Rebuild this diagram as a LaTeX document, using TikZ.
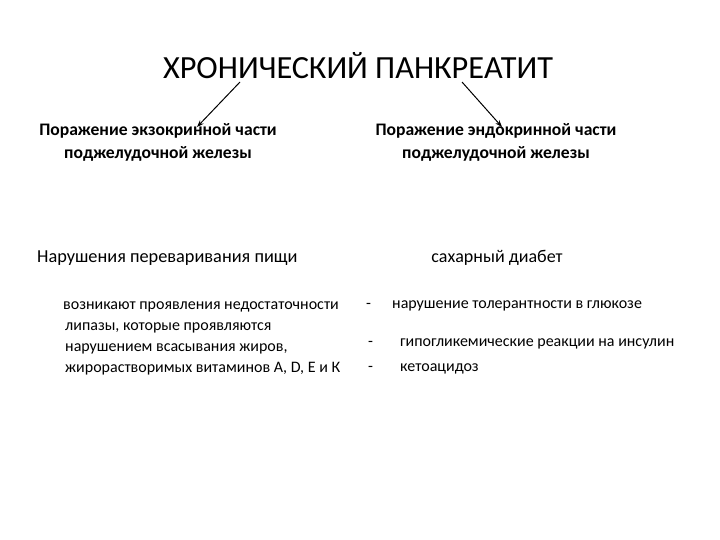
\documentclass[tikz,border=0pt]{standalone}
\usepackage{fontspec}
\setmainfont{Carlito}
\usetikzlibrary{arrows.meta}
\begin{document}
\begin{tikzpicture}[x=1pt,y=-1pt,
  txt/.style={inner sep=0pt,anchor=west,font=\fontsize{16}{19}\selectfont},
  hdr/.style={inner sep=0pt,align=center,font=\fontsize{17.6}{23}\selectfont\bfseries},
  arr/.style={draw,line width=1pt,-{Stealth[length=7pt,width=5pt]}}]
\useasboundingbox[fill=white] (0,0) rectangle (720,540);
\node[inner sep=0pt,font=\fontsize{32.3}{36}\selectfont] (title) at (358,66) {ХРОНИЧЕСКИЙ ПАНКРЕАТИТ};
\coordinate (s1) at (240,82);
\coordinate (s2) at (462,82);
\node[hdr] (exo) at (158,142) {Поражение экзокринной части\\поджелудочной железы};
\node[hdr] (endo) at (496,142) {Поражение эндокринной части\\поджелудочной железы};
\coordinate (t1) at (197,127);
\coordinate (t2) at (502,127);
\draw[arr] (s1) -- (t1);
\draw[arr] (s2) -- (t2);
\node[inner sep=0pt,anchor=west,font=\fontsize{18.3}{20}\selectfont] (dig) at (37,258) {Нарушения переваривания пищи};
\node[inner sep=0pt,font=\fontsize{18}{20}\selectfont] (diab) at (497,258) {сахарный диабет};
\node[txt] (p1) at (63,307) {возникают проявления недостаточности};
\node[txt] (p2) at (65,328) {липазы, которые проявляются};
\node[txt] (p3) at (65,349) {нарушением всасывания жиров,};
\node[txt] (p4) at (65,369) {жирорастворимых витаминов А, D, Е и К};
\node[txt] (d1) at (366,306) {-};
\node[txt] (r1) at (392,306) {нарушение толерантности в глюкозе};
\node[txt] (d2) at (368,344) {-};
\node[txt] (r2) at (400,344) {гипогликемические реакции на инсулин};
\node[txt] (d3) at (368,369) {-};
\node[txt] (r3) at (400,369) {кетоацидоз};
\end{tikzpicture}
\end{document}
